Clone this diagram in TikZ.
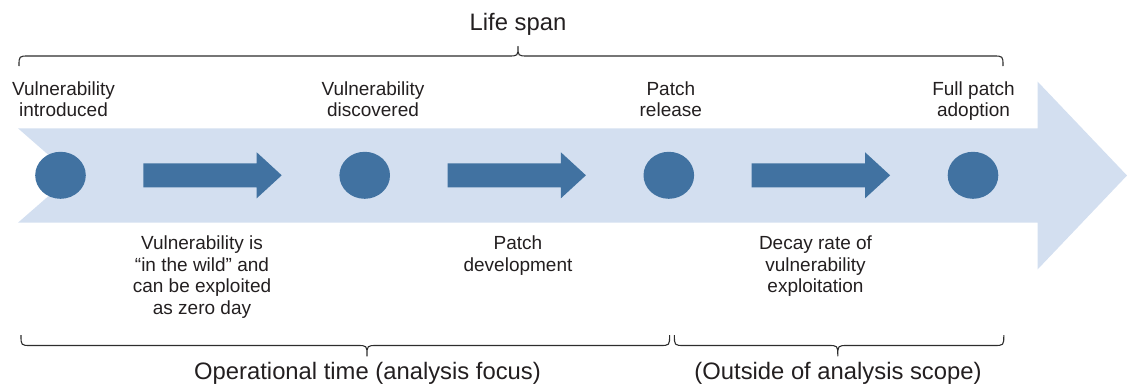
\documentclass[tikz,border=0pt]{standalone}
\usepackage{fontspec}
\setmainfont{Liberation Sans}
\usetikzlibrary{shapes.geometric}
\definecolor{bandblue}{RGB}{211,223,240}
\definecolor{markblue}{RGB}{65,114,161}
\definecolor{inkgray}{RGB}{35,31,32}
\definecolor{bracegray}{RGB}{45,45,45}
\begin{document}
\begin{tikzpicture}[x=1pt,y=-1pt,
  event/.style={ellipse,fill=markblue,draw=none,minimum width=50.6pt,minimum height=47pt,inner sep=0pt},
  toplabel/.style={anchor=north,align=center,inner sep=0pt,text=inkgray,font=\fontsize{19}{21}\selectfont},
  botlabel/.style={anchor=north,align=center,inner sep=0pt,text=inkgray,font=\fontsize{19}{21.7}\selectfont},
  spanlabel/.style={anchor=base,inner sep=0pt,text=inkgray,font=\fontsize{23.8}{28}\selectfont},
  stagearrow/.style={fill=markblue,draw=none},
  spanbrace/.style={draw=bracegray,line width=1.1pt,line join=round}
]
\useasboundingbox (0,0) rectangle (1127,386);

% Wide background arrow carrying the timeline
\fill[bandblue] (18,128.3) -- (1037.7,128.3) -- (1037.7,81.7) -- (1127,175.5)
  -- (1037.7,269.3) -- (1037.7,222.7) -- (18,222.7) -- (72,175.5) -- cycle;

% Milestones
\node[event] (c1) at (60.5,175.3) {};
\node[event] (c2) at (364.7,175.3) {};
\node[event] (c3) at (668.8,175.3) {};
\node[event] (c4) at (973,175.3) {};

% Stage arrows between milestones
\foreach \s in {143.3,447.5,751.7}{
  \fill[stagearrow] (\s,163.3) -- (\s+113.4,163.3) -- (\s+113.4,152.3) -- (\s+138.4,175.3)
    -- (\s+113.4,198.3) -- (\s+113.4,187.3) -- (\s,187.3) -- cycle;
}

% Milestone labels
\node[toplabel] (l1) at (63.5,81.6) {Vulnerability\\introduced};
\node[toplabel] (l2) at (373,81.6) {Vulnerability\\discovered};
\node[toplabel] (l3) at (670.8,81.6) {Patch\\release};
\node[toplabel] (l4) at (973.5,81.6) {Full patch\\adoption};

% Stage labels
\node[botlabel] (s1) at (202,235.5) {Vulnerability is\\“in the wild” and\\can be exploited\\as zero day};
\node[botlabel] (s2) at (518,235.5) {Patch\\development};
\node[botlabel] (s3) at (815.5,235.5) {Decay rate of\\vulnerability\\exploitation};

% Span braces
\draw[spanbrace] (19,66) .. controls (19,56) .. (29,56) -- (508,56)
  .. controls (518,56) .. (518,46.5) .. controls (518,56) .. (528,56)
  -- (993,56) .. controls (1003,56) .. (1003,66);
\draw[spanbrace] (21,335) .. controls (21,345.5) .. (31,345.5) -- (357,345.5)
  .. controls (367,345.5) .. (367,356) .. controls (367,345.5) .. (377,345.5)
  -- (659.6,345.5) .. controls (669.6,345.5) .. (669.6,335);
\draw[spanbrace] (674.4,335) .. controls (674.4,345.5) .. (684.4,345.5) -- (827.8,345.5)
  .. controls (837.8,345.5) .. (837.8,356) .. controls (837.8,345.5) .. (847.8,345.5)
  -- (993.8,345.5) .. controls (1003.8,345.5) .. (1003.8,335);

\node[spanlabel] (life) at (518,30) {Life span};
\node[spanlabel] (oper) at (367.5,379) {Operational time (analysis focus)};
\node[spanlabel] (outs) at (838,379) {(Outside of analysis scope)};
\end{tikzpicture}
\end{document}
